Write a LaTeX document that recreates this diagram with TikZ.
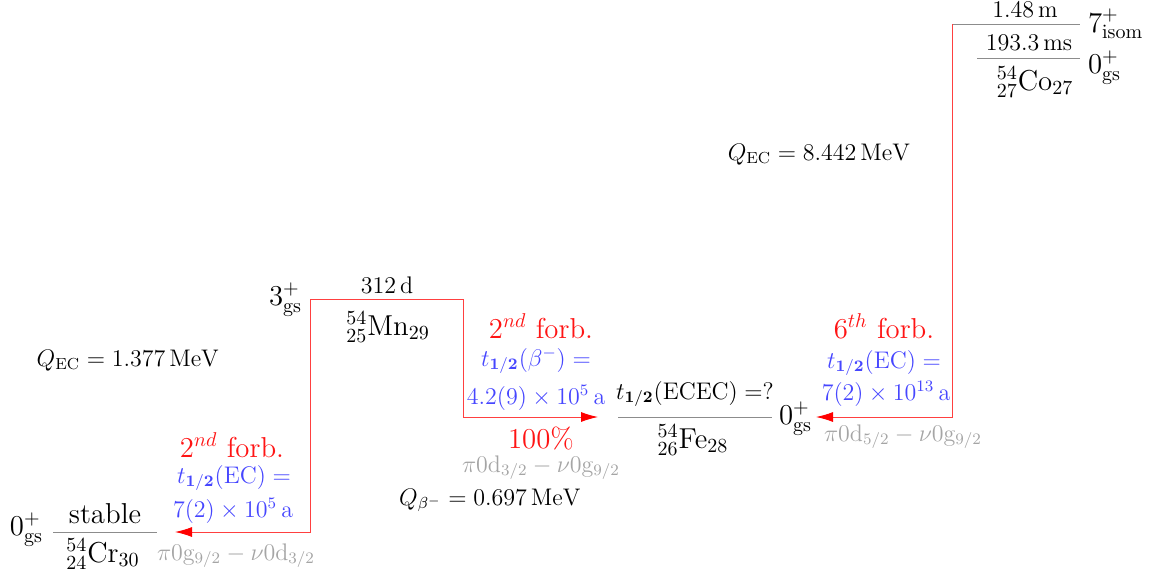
\documentclass[tikz,border=0pt]{standalone}
\usetikzlibrary{arrows.meta}
\definecolor{tblue}{RGB}{70,70,255}
\definecolor{tgray}{RGB}{165,165,165}
\definecolor{tred}{RGB}{255,20,20}
\tikzset{
  txt/.style={inner sep=0pt, outer sep=0pt, anchor=base},
  big/.style={font=\fontsize{14.4}{16}\selectfont},
  mid/.style={font=\fontsize{12}{14}\selectfont},
  lvl/.style={draw=black!45, line width=0.5pt},
  decay/.style={draw=red!75, line width=0.45pt},
  arr/.style={decay, -{Latex[length=8.5pt,width=5pt,fill=red,color=red]}},
  redt/.style={txt, big, text=tred},
  bluet/.style={txt, mid, text=tblue},
  grayt/.style={txt, mid, text=tgray},
}
\begin{document}
\begin{tikzpicture}[x=0.5pt, y=-0.5pt]
\useasboundingbox (0,0) rectangle (1154,584);

% level coordinates
\coordinate (crL) at (53,532);  \coordinate (crR) at (157,532);
\coordinate (mnL) at (310,299); \coordinate (mnR) at (463,299);
\coordinate (feL) at (618,417); \coordinate (feR) at (772,417);
\coordinate (coiL) at (952,24); \coordinate (coiR) at (1080,24);
\coordinate (cogL) at (977,58); \coordinate (cogR) at (1080,58);
\coordinate (mnB) at (310,532); \coordinate (crT) at (175,532);
\coordinate (mnC) at (463,417); \coordinate (feT) at (598,417);
\coordinate (coB) at (952,417); \coordinate (feT2) at (816,417);

% level lines
\draw[lvl] (crL) -- (crR);
\draw[lvl] (feL) -- (feR);
\draw[lvl] (coiL) -- (coiR);
\draw[lvl] (cogL) -- (cogR);
\draw[decay] (mnL) -- (mnR);

% decay paths
\draw[arr] (mnL) -- (mnB) -- (crT);
\draw[arr] (mnR) -- (mnC) -- (feT);
\draw[arr] (coiL) -- (coB) -- (feT2);

% 54Co
\node[txt, mid] (co1) at (1025,17) {1.48\,m};
\node[txt, mid] (co2) at (1029,50) {193.3\,ms};
\node[txt, big, anchor=base west] (coisp) at (1088,32) {$7^+_{\mathrm{isom}}$};
\node[txt, big, anchor=base west] (cogsp) at (1088,73) {$0^+_{\mathrm{gs}}$};
\node[txt, big] (co) at (1035,90) {${}^{54}_{27}\mathrm{Co}_{27}$};
\node[txt, mid] (qco) at (819,160) {$Q_{\mathrm{EC}} = 8.442\,\mathrm{MeV}$};

% 54Mn
\node[txt, mid] (mnt) at (387,293) {312\,d};
\node[txt, big, anchor=base east] (mnsp) at (302,305) {$3^+_{\mathrm{gs}}$};
\node[txt, big] (mn) at (388,335) {${}^{54}_{25}\mathrm{Mn}_{29}$};
\node[redt] (f1) at (541,338) {$2^{nd}$ forb.};
\node[bluet] (b1a) at (536,366) {$t_{\mathbf{1/2}}(\beta^-) =$};
\node[bluet] (b1b) at (536,404) {$4.2(9)\times 10^5\,\mathrm{a}$};
\node[redt] (p1) at (541,448) {100\%};
\node[grayt] (c1) at (541,472) {$\pi 0\mathrm{d}_{3/2} - \nu 0\mathrm{g}_{9/2}$};
\node[txt, mid] (qb) at (490,505) {$Q_{\beta^-} = 0.697\,\mathrm{MeV}$};
\node[txt, mid] (qmn) at (128,366) {$Q_{\mathrm{EC}} = 1.377\,\mathrm{MeV}$};

% 54Cr
\node[txt, big, anchor=base west] (crsp) at (10,535) {$0^+_{\mathrm{gs}}$};
\node[txt, big] (crt) at (105,523) {stable};
\node[txt, big] (cr) at (103,562) {${}^{54}_{24}\mathrm{Cr}_{30}$};
\node[grayt] (c2) at (236,560) {$\pi 0\mathrm{g}_{9/2} - \nu 0\mathrm{d}_{3/2}$};
\node[redt] (f2) at (232,457) {$2^{nd}$ forb.};
\node[bluet] (b2a) at (234,483) {$t_{\mathbf{1/2}}(\mathrm{EC}) =$};
\node[bluet] (b2b) at (233,517) {$7(2)\times 10^5\,\mathrm{a}$};

% 54Fe
\node[txt, mid] (fet) at (695,399) {$t_{\mathbf{1/2}}(\mathrm{ECEC}) =?$};
\node[txt, big] (fe) at (693,448) {${}^{54}_{26}\mathrm{Fe}_{28}$};
\node[txt, big, anchor=base west] (fesp) at (779,424) {$0^+_{\mathrm{gs}}$};
\node[redt] (f3) at (884,338) {$6^{th}$ forb.};
\node[bluet] (b3a) at (884,368) {$t_{\mathbf{1/2}}(\mathrm{EC}) =$};
\node[bluet] (b3b) at (886,400) {$7(2)\times 10^{13}\,\mathrm{a}$};
\node[grayt] (c3) at (903,441) {$\pi 0\mathrm{d}_{5/2} - \nu 0\mathrm{g}_{9/2}$};
\end{tikzpicture}
\end{document}
